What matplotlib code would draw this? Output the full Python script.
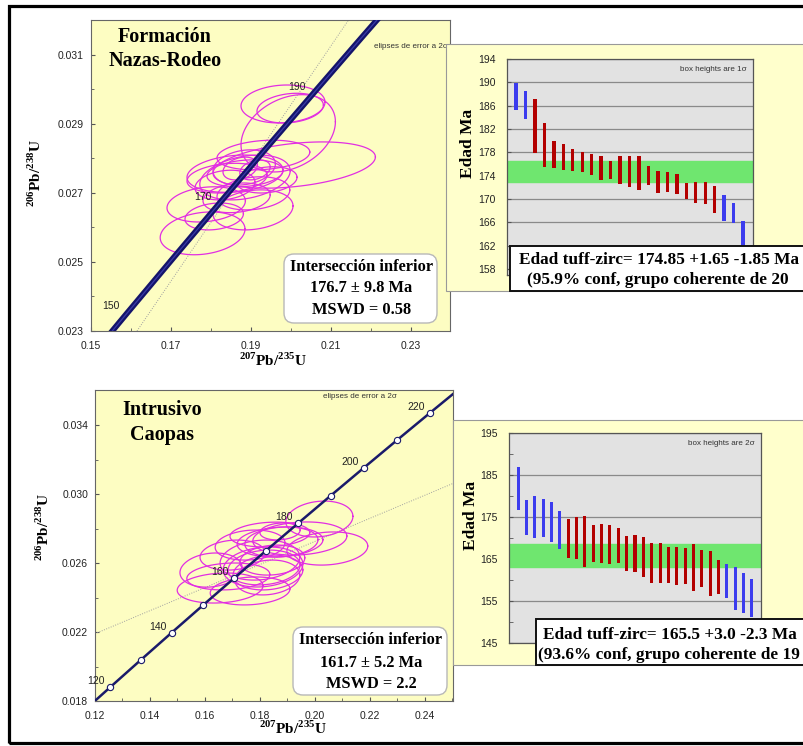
import numpy as np
import matplotlib
matplotlib.use('Agg')
import matplotlib.pyplot as plt
from matplotlib.patches import Rectangle, FancyBboxPatch

plt.rcParams['mathtext.fontset'] = 'custom'
plt.rcParams['mathtext.rm'] = 'Liberation Serif:bold'
plt.rcParams['mathtext.bf'] = 'Liberation Serif:bold'

W, H = 804, 746

# concordia: age (Ma), 207Pb/235U, 206Pb/238U
conc_age = [110, 120, 130, 140, 150, 160, 170, 180, 190, 200, 210, 220, 230]
conc_x = [0.114419, 0.125449, 0.136588, 0.147837, 0.159197, 0.170670, 0.182256,
          0.193957, 0.205774, 0.217708, 0.229759, 0.241931, 0.254222]
conc_y = [0.017210, 0.018789, 0.020371, 0.021955, 0.023542, 0.025131, 0.026722,
          0.028316, 0.029912, 0.031511, 0.033113, 0.034717, 0.036323]

# Formacion Nazas-Rodeo: ellipses (2 sigma)
top_ex = [0.1980, 0.1998, 0.1993, 0.2008, 0.1860, 0.1788, 0.1808, 0.1905, 0.1779, 0.1840,
          0.1885, 0.1931, 0.1885, 0.1906, 0.1864, 0.1940, 0.1873, 0.1910, 0.1835, 0.1883]
top_ey = [0.02958, 0.02946, 0.02873, 0.02781, 0.02756, 0.02667, 0.02632, 0.02651, 0.02583, 0.02743,
          0.02745, 0.02810, 0.02757, 0.02699, 0.02686, 0.02738, 0.02771, 0.02767, 0.02723, 0.02774]
top_sx = [0.0105, 0.0083, 0.0118, 0.0203, 0.0120, 0.0098, 0.0073, 0.0100, 0.0106, 0.0100,
          0.0113, 0.0116, 0.0095, 0.0091, 0.0084, 0.0075, 0.0043, 0.0038, 0.0075, 0.0078]
top_sy = [0.00055, 0.00043, 0.00112, 0.00067, 0.00054, 0.00051, 0.00039, 0.00058, 0.00062, 0.00043,
          0.00065, 0.00043, 0.00039, 0.00048, 0.00043, 0.00038, 0.00033, 0.00029, 0.00043, 0.00051]
top_rho = [0.1, 0.2, 0.3, 0.35, 0.2, 0.2, 0.2, 0.2, 0.2, 0.2,
           0.3, 0.2, 0.2, 0.2, 0.2, 0.2, 0.3, 0.3, 0.2, 0.2]
top_disc_x = [0.1615, 0.2143]
top_disc_y = [0.023, 0.032]

# Intrusivo Caopas: ellipses (2 sigma)
bot_ex = [0.2016, 0.2045, 0.1836, 0.1878, 0.1945, 0.1873, 0.1811, 0.1815, 0.1829, 0.1622,
          0.1685, 0.1655, 0.1764, 0.1800, 0.1873, 0.1845, 0.1700, 0.1764, 0.1827]
bot_ey = [0.02855, 0.02684, 0.02765, 0.02722, 0.02742, 0.02722, 0.02577, 0.02574, 0.02545, 0.02559,
          0.02522, 0.02455, 0.02438, 0.02617, 0.02783, 0.02617, 0.02646, 0.02704, 0.02516]
bot_sx = [0.0122, 0.0147, 0.0145, 0.0133, 0.0171, 0.0156, 0.0145, 0.0131, 0.0127, 0.0113,
          0.0151, 0.0156, 0.0145, 0.0145, 0.0073, 0.0118, 0.0118, 0.0127, 0.0118]
bot_sy = [0.00104, 0.00096, 0.00072, 0.00087, 0.00096, 0.00087, 0.00116, 0.00101, 0.00101, 0.00099,
          0.00078, 0.00087, 0.00081, 0.00116, 0.00049, 0.00087, 0.00087, 0.00087, 0.00101]
bot_rho = [0.15] * 19
bot_disc_x = [0.12, 0.25]
bot_disc_y = [0.0219, 0.0306]

# TuffZirc age bars
top_hi = [189.9, 188.6, 187.1, 183.0, 179.9, 179.5, 178.5, 178.1, 177.8, 177.3, 176.5, 177.3, 177.3,
          177.3, 175.6, 174.9, 174.6, 174.3, 172.7, 173.0, 172.9, 172.3, 170.7, 169.3, 166.2]
top_lo = [185.2, 183.7, 177.9, 175.5, 175.3, 175.0, 174.9, 174.7, 174.1, 173.3, 173.4, 172.6, 172.0,
          171.5, 172.5, 171.1, 171.3, 170.9, 170.0, 169.4, 169.1, 167.6, 166.2, 165.9, 160.0]
top_used = [0, 0] + [1] * 20 + [0, 0, 0]
top_age, top_plus, top_minus = 174.85, 1.65, 1.85

bot_hi = [186.8, 179.0, 180.0, 179.2, 178.6, 176.4, 174.5, 174.9, 175.2, 173.1, 173.3, 173.2, 172.4,
          170.5, 170.6, 170.3, 168.9, 168.7, 167.8, 167.8, 167.6, 168.6, 167.2, 166.8, 164.8,
          163.8, 163.2, 161.6, 160.2]
bot_lo = [176.6, 170.7, 169.9, 170.2, 169.1, 167.3, 165.2, 164.9, 163.0, 164.4, 164.1, 163.8, 164.1,
          162.2, 161.8, 160.8, 159.4, 159.2, 159.4, 158.8, 159.0, 157.5, 158.4, 156.2, 156.7,
          155.7, 152.8, 152.1, 151.2]
bot_used = [0] * 6 + [1] * 19 + [0] * 4
bot_age, bot_plus, bot_minus = 165.5, 3.0, 2.3

YEL = '#fdfdc2'
MAG = '#e22ee2'
NAVY = '#1a1a6a'
SERIF = 'Liberation Serif'
SANS = 'Liberation Sans'


def fr(x0, y0, x1, y1):
    return [x0 / W, 1 - y1 / H, (x1 - x0) / W, (y1 - y0) / H]


def ftext(x, y, s, **kw):
    fig.text(x / W, 1 - y / H, s, **kw)


def style_conc(ax):
    ax.set_facecolor(YEL)
    for sp in ax.spines.values():
        sp.set_color('#666666')
        sp.set_linewidth(0.8)
    ax.tick_params(which='both', direction='in', colors='#555555', labelcolor='#222222',
                   labelsize=7.5, pad=5)
    ax.tick_params(which='major', length=3)
    ax.tick_params(which='minor', length=2)
    ax.tick_params(axis='x', pad=7)
    for lab in ax.get_xticklabels() + ax.get_yticklabels():
        lab.set_fontfamily(SANS)


def ellipses(ax, ex, ey, sx, sy, rho):
    t = np.linspace(0, 2 * np.pi, 120)
    for cx, cy, a, b, r in zip(ex, ey, sx, sy, rho):
        ax.plot(cx + a * np.cos(t), cy + b * (r * np.cos(t) + np.sqrt(1 - r * r) * np.sin(t)),
                color=MAG, lw=0.9, zorder=3)


def bars(ax, hi, lo, used):
    xs = np.arange(1, len(hi) + 1)
    cols = ['#b30000' if u else '#3c3cee' for u in used]
    ax.bar(xs, np.array(hi) - np.array(lo), bottom=lo, width=0.36, color=cols, zorder=3)


fig = plt.figure(figsize=(W / 100, H / 100), dpi=100)

# ---------------- top-left concordia
ax1 = fig.add_axes(fr(91, 20, 450, 331))
ax1.set_xlim(0.15, 0.23975)
ax1.set_ylim(0.023, 0.032014)
ax1.set_xticks([0.15, 0.17, 0.19, 0.21, 0.23])
ax1.set_xticks([0.16, 0.18, 0.20, 0.22], minor=True)
ax1.set_yticks([0.023, 0.025, 0.027, 0.029, 0.031])
ax1.set_yticks([0.024, 0.026, 0.028, 0.030], minor=True)
ax1.set_xticklabels(['0.15', '0.17', '0.19', '0.21', '0.23'])
ax1.set_yticklabels(['0.023', '0.025', '0.027', '0.029', '0.031'])
style_conc(ax1)
ax1.plot(top_disc_x, top_disc_y, ls=(0, (1, 1.5)), color='#a0a0a0', lw=0.7, zorder=2)
ellipses(ax1, top_ex, top_ey, top_sx, top_sy, top_rho)
ax1.plot(conc_x, conc_y, color='#14146a', lw=4.2, zorder=4, solid_capstyle='butt')
ax1.plot(conc_x, conc_y, color='#3a3aa8', lw=0.9, zorder=4)
for a in [150, 170, 190]:
    i = conc_age.index(a)
    ax1.annotate(str(a), (conc_x[i], conc_y[i]), xytext=(-17, 6), textcoords='offset pixels',
                 ha='center', va='center', fontsize=7.5, family=SANS, color='#222222', zorder=5)
ax1.text(0.995, 0.915, 'elipses de error a 2σ', transform=ax1.transAxes,
         ha='right', va='center', fontsize=5.8, family=SANS, color='#333333')

# ---------------- bottom-left concordia
ax2 = fig.add_axes(fr(95, 390, 453, 701))
ax2.set_xlim(0.12, 0.2502)
ax2.set_ylim(0.018, 0.03603)
ax2.set_xticks([0.12, 0.14, 0.16, 0.18, 0.20, 0.22, 0.24])
ax2.set_xticks([0.13, 0.15, 0.17, 0.19, 0.21, 0.23, 0.25], minor=True)
ax2.set_yticks([0.018, 0.022, 0.026, 0.030, 0.034])
ax2.set_yticks([0.020, 0.024, 0.028, 0.032], minor=True)
ax2.set_xticklabels(['0.12', '0.14', '0.16', '0.18', '0.20', '0.22', '0.24'])
ax2.set_yticklabels(['0.018', '0.022', '0.026', '0.030', '0.034'])
style_conc(ax2)
ax2.plot(bot_disc_x, bot_disc_y, ls=(0, (1, 1.5)), color='#a0a0a0', lw=0.7, zorder=2)
ellipses(ax2, bot_ex, bot_ey, bot_sx, bot_sy, bot_rho)
ax2.plot(conc_x, conc_y, color=NAVY, lw=1.8, zorder=4)
ax2.plot(conc_x, conc_y, 'o', mfc='white', mec=NAVY, ms=4.5, mew=0.8, zorder=5)
for a in [120, 140, 160, 180, 200, 220]:
    i = conc_age.index(a)
    ax2.annotate(str(a), (conc_x[i], conc_y[i]), xytext=(-14, 6), textcoords='offset pixels',
                 ha='center', va='center', fontsize=7.5, family=SANS, color='#222222', zorder=6)
ftext(360, 396, 'elipses de error a 2σ', ha='center', va='center', fontsize=5.8,
      family=SANS, color='#333333')

# ---------------- right panels (background)
fig.patches.append(Rectangle((446 / W, 1 - 291 / H), 400 / W, 247 / H, transform=fig.transFigure,
                             facecolor='#ffffcc', edgecolor='#999999', lw=0.8, zorder=0.5))
fig.patches.append(Rectangle((453 / W, 1 - 665 / H), 400 / W, 245 / H, transform=fig.transFigure,
                             facecolor='#ffffcc', edgecolor='#999999', lw=0.8, zorder=0.5))

# ---------------- top-right age bars
ax3 = fig.add_axes(fr(507, 59, 753, 275))
ax3.set_zorder(1)
ax3.set_facecolor('#e2e2e2')
ax3.set_xlim(0.05, 26.05)
ax3.set_ylim(157, 194)
ax3.set_yticks(range(158, 195, 4))
ax3.set_xticks([])
ax3.grid(axis='y', color='#8a8a8a', lw=0.9, zorder=0)
ax3.set_axisbelow(True)
ax3.axhspan(top_age - top_minus, top_age + top_plus, color='#6fe66f', zorder=2)
bars(ax3, top_hi, top_lo, top_used)
ax3.text(0.975, 0.95, 'box heights are 1σ', transform=ax3.transAxes, ha='right', va='center',
         fontsize=5.8, family=SANS, color='#333333')

# ---------------- bottom-right age bars
ax4 = fig.add_axes(fr(509, 433, 761, 643))
ax4.set_zorder(1)
ax4.set_facecolor('#e2e2e2')
ax4.set_xlim(-0.08, 30.08)
ax4.set_ylim(145, 195)
ax4.set_yticks([145, 155, 165, 175, 185, 195])
ax4.set_yticks([150, 160, 170, 180, 190], minor=True)
ax4.set_xticks([])
ax4.grid(axis='y', which='major', color='#8a8a8a', lw=0.9, zorder=0)
ax4.set_axisbelow(True)
ax4.axhspan(bot_age - bot_minus, bot_age + bot_plus, color='#6fe66f', zorder=2)
bars(ax4, bot_hi, bot_lo, bot_used)
ax4.text(0.975, 0.95, 'box heights are 2σ', transform=ax4.transAxes, ha='right', va='center',
         fontsize=5.8, family=SANS, color='#333333')

for ax in (ax3, ax4):
    for sp in ax.spines.values():
        sp.set_color('#555555')
        sp.set_linewidth(0.9)
    ax.tick_params(which='both', direction='in', length=3, colors='#555555',
                   labelcolor='#222222', labelsize=7.5, pad=8)
    for lab in ax.get_yticklabels():
        lab.set_fontfamily(SANS)

# ---------------- axis labels and titles
lab206 = r'$^{206}$Pb/$^{238}$U'
lab207 = r'$^{207}$Pb/$^{235}$U'
ftext(35, 173, lab206, rotation=90, ha='center', va='center', fontsize=11,
      family=SERIF, weight='bold')
ftext(43, 527, lab206, rotation=90, ha='center', va='center', fontsize=11,
      family=SERIF, weight='bold')
ftext(273, 360, lab207, ha='center', va='center', fontsize=11, family=SERIF, weight='bold')
ftext(293, 728, lab207, ha='center', va='center', fontsize=11, family=SERIF, weight='bold')
ftext(468, 143, 'Edad Ma', rotation=90, ha='center', va='center', fontsize=12.5,
      family=SERIF, weight='bold')
ftext(471, 515, 'Edad Ma', rotation=90, ha='center', va='center', fontsize=12.5,
      family=SERIF, weight='bold')

ftext(165, 37, 'Formación', ha='center', va='center', fontsize=14.5, family=SERIF, weight='bold')
ftext(165, 61, 'Nazas-Rodeo', ha='center', va='center', fontsize=14.5, family=SERIF, weight='bold')
ftext(162, 410, 'Intrusivo', ha='center', va='center', fontsize=14.5, family=SERIF, weight='bold')
ftext(162, 435, 'Caopas', ha='center', va='center', fontsize=14.5, family=SERIF, weight='bold')

# ---------------- result boxes
for (x0, y0, x1, y1), lines, ys in [
        ((284, 254, 437, 323), ['Intersección inferior', '176.7 ± 9.8 Ma', 'MSWD = 0.58'],
         [267, 288, 310]),
        ((293, 627, 447, 695), ['Intersección inferior', '161.7 ± 5.2 Ma', 'MSWD = 2.2'],
         [640, 663, 684])]:
    fig.patches.append(FancyBboxPatch((x0 / 100, (H - y1) / 100), (x1 - x0) / 100, (y1 - y0) / 100,
                                      boxstyle='round,pad=0,rounding_size=0.1',
                                      transform=fig.dpi_scale_trans, facecolor='white',
                                      edgecolor='#b8b8b8', lw=1, zorder=5))
    for s, y in zip(lines, ys):
        ftext((x0 + x1) / 2 + 1, y, s, ha='center', va='center', fontsize=11.8, family=SERIF,
              weight='bold', zorder=6)

for (x0, y0, y1), l1, l2 in [
        ((510, 246, 291), (519, 260, 'Edad tuff-zirc= 174.85 +1.65 -1.85 Ma'),
         (527, 280, '(95.9% conf, grupo coherente de 20')),
        ((536, 619, 665), (543, 635, 'Edad tuff-zirc= 165.5 +3.0 -2.3 Ma'),
         (538, 655, '(93.6% conf, grupo coherente de 19'))]:
    fig.patches.append(Rectangle((x0 / W, 1 - y1 / H), 400 / W, (y1 - y0) / H,
                                 transform=fig.transFigure, facecolor='white',
                                 edgecolor='#111111', lw=1.4, zorder=5))
    for x, y, s in (l1, l2):
        ftext(x, y, s, ha='left', va='center', fontsize=12.4, family=SERIF, weight='bold',
              zorder=6)

# outer frame
fig.patches.append(Rectangle((9.5 / W, 1 - 742.5 / H), 900 / W, 736.5 / H, transform=fig.transFigure,
                             fill=False, edgecolor='black', lw=2.3, zorder=10))

fig.savefig('out.png', dpi=100, facecolor='white')
